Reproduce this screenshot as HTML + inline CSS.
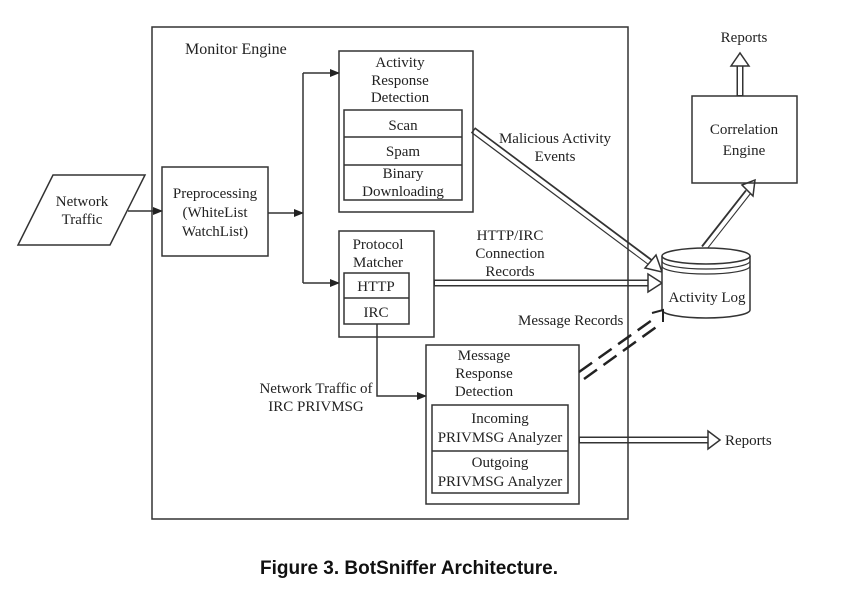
<!DOCTYPE html>
<html><head><meta charset="utf-8"><style>
body{margin:0;background:#fff;}
svg{display:block}
text{font-family:"Liberation Serif",serif;font-size:15px;fill:#222;}
.b{fill:none;stroke:#333;stroke-width:1.5}
</style></head><body>
<svg width="866" height="595" viewBox="0 0 866 595" xmlns="http://www.w3.org/2000/svg">
<defs>
<marker id="a" markerWidth="10" markerHeight="8" refX="9" refY="4" orient="auto" markerUnits="userSpaceOnUse"><path d="M0,0 L10,4 L0,8 z" fill="#222"/></marker>
</defs>
<g stroke="#333" stroke-width="7" fill="none">
<line x1="579" y1="440" x2="708" y2="440"/>
<line x1="434" y1="283" x2="648" y2="283"/>
<line x1="473" y1="130" x2="650" y2="262"/>
<line x1="704" y1="248" x2="748" y2="192"/>
<line x1="740" y1="96" x2="740" y2="66"/>
</g>
<g stroke="#fff" stroke-width="4" fill="none">
<line x1="580" y1="440" x2="710" y2="440"/>
<line x1="435" y1="283" x2="650" y2="283"/>
<line x1="474" y1="131" x2="652" y2="264"/>
<line x1="703" y1="250" x2="750" y2="190"/>
<line x1="740" y1="95" x2="740" y2="64"/>
</g>
<rect x="152" y="27" width="476" height="492" class="b"/>
<text x="185" y="54" style="font-size:16px">Monitor Engine</text>
<path d="M53,175 L145,175 L110,245 L18,245 Z" class="b"/>
<text x="82" y="206" text-anchor="middle">Network</text>
<text x="82" y="224" text-anchor="middle">Traffic</text>
<line x1="128" y1="211" x2="162" y2="211" class="b" marker-end="url(#a)"/>
<rect x="162" y="167" width="106" height="89" class="b"/>
<text x="215" y="198" text-anchor="middle">Preprocessing</text>
<text x="215" y="217" text-anchor="middle">(WhiteList</text>
<text x="215" y="236" text-anchor="middle">WatchList)</text>
<line x1="268" y1="213" x2="303" y2="213" class="b" marker-end="url(#a)"/>
<polyline points="303,73 303,283" class="b"/>
<line x1="303" y1="73" x2="339" y2="73" class="b" marker-end="url(#a)"/>
<line x1="303" y1="283" x2="339" y2="283" class="b" marker-end="url(#a)"/>
<rect x="339" y="51" width="134" height="161" class="b"/>
<text x="400" y="67" text-anchor="middle">Activity</text>
<text x="400" y="85" text-anchor="middle">Response</text>
<text x="400" y="102" text-anchor="middle">Detection</text>
<rect x="344" y="110" width="118" height="90" class="b"/>
<line x1="344" y1="137" x2="462" y2="137" class="b"/>
<line x1="344" y1="165" x2="462" y2="165" class="b"/>
<text x="403" y="130" text-anchor="middle">Scan</text>
<text x="403" y="156" text-anchor="middle">Spam</text>
<text x="403" y="178" text-anchor="middle">Binary</text>
<text x="403" y="196" text-anchor="middle">Downloading</text>
<rect x="339" y="231" width="95" height="106" class="b"/>
<text x="378" y="249" text-anchor="middle">Protocol</text>
<text x="378" y="267" text-anchor="middle">Matcher</text>
<rect x="344" y="273" width="65" height="51" class="b"/>
<line x1="344" y1="298" x2="409" y2="298" class="b"/>
<text x="376" y="291" text-anchor="middle">HTTP</text>
<text x="376" y="317" text-anchor="middle">IRC</text>
<polyline points="377,324 377,396 426,396" class="b" marker-end="url(#a)"/>
<text x="316" y="393" text-anchor="middle">Network Traffic of</text>
<text x="316" y="411" text-anchor="middle">IRC PRIVMSG</text>
<rect x="426" y="345" width="153" height="159" class="b"/>
<text x="484" y="360" text-anchor="middle">Message</text>
<text x="484" y="378" text-anchor="middle">Response</text>
<text x="484" y="396" text-anchor="middle">Detection</text>
<rect x="432" y="405" width="136" height="88" class="b"/>
<line x1="432" y1="451" x2="568" y2="451" class="b"/>
<text x="500" y="423" text-anchor="middle">Incoming</text>
<text x="500" y="442" text-anchor="middle">PRIVMSG Analyzer</text>
<text x="500" y="467" text-anchor="middle">Outgoing</text>
<text x="500" y="486" text-anchor="middle">PRIVMSG Analyzer</text>
<g stroke="#333" stroke-width="1.5" fill="#fff">
<path d="M708,431 L720,440 L708,449 Z"/>
<path d="M648,274 L662,283 L648,292 Z"/>
<path d="M645,268 L662,272 L656,255 Z"/>
<path d="M742,185 L755,180 L753,196 Z"/>
<path d="M731,66 L740,53 L749,66 Z"/>
</g>
<g stroke="#222" stroke-width="2.5" stroke-dasharray="16,8">
<line x1="579" y1="372" x2="655" y2="318"/>
<line x1="584" y1="379" x2="659" y2="325"/>
</g>
<text x="518" y="325">Message Records</text>
<text x="555" y="143" text-anchor="middle">Malicious Activity</text>
<text x="555" y="161" text-anchor="middle">Events</text>
<text x="510" y="240" text-anchor="middle">HTTP/IRC</text>
<text x="510" y="258" text-anchor="middle">Connection</text>
<text x="510" y="276" text-anchor="middle">Records</text>
<path d="M662,256 L662,310 A44,8 0 0 0 750,310 L750,256" fill="#fff" stroke="#333" stroke-width="1.5"/>
<ellipse cx="706" cy="256" rx="44" ry="8" fill="#fff" stroke="#333" stroke-width="1.5"/>
<path d="M662,261 A44,8 0 0 0 750,261 M662,266 A44,8 0 0 0 750,266" fill="none" stroke="#333" stroke-width="1.2"/>
<text x="707" y="302" text-anchor="middle">Activity Log</text>
<path d="M652,313 L663,310 L663,322" fill="none" stroke="#222" stroke-width="2"/>
<rect x="692" y="96" width="105" height="87" class="b"/>
<text x="744" y="134" text-anchor="middle">Correlation</text>
<text x="744" y="155" text-anchor="middle">Engine</text>
<text x="744" y="42" text-anchor="middle">Reports</text>
<text x="725" y="445">Reports</text>
<text x="409" y="574" text-anchor="middle" style="font-family:'Liberation Sans',sans-serif;font-weight:bold;font-size:19px;fill:#111">Figure 3. BotSniffer Architecture.</text>
</svg>
</body></html>
